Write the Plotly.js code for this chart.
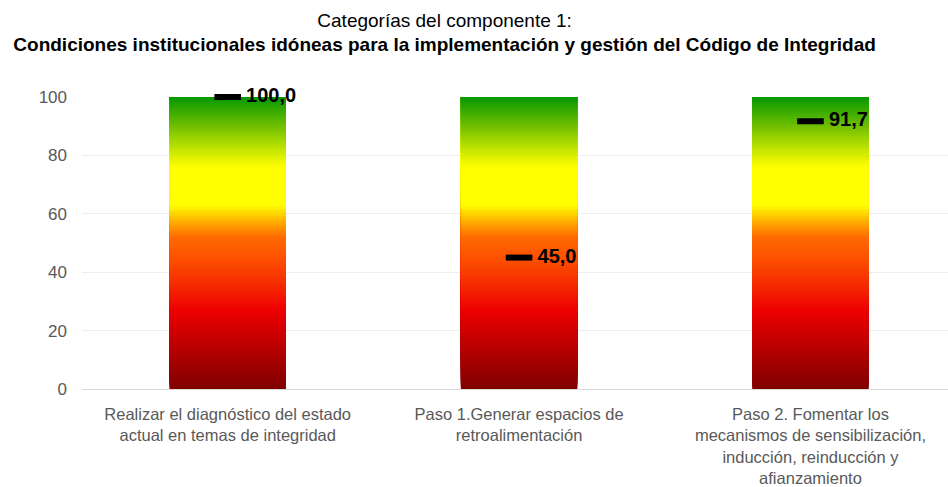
<!DOCTYPE html>
<html>
<head>
<meta charset="utf-8">
<script src="https://cdn.plot.ly/plotly-3.0.1.min.js"></script>
<style>html,body{margin:0;padding:0;background:#fff}#chart{width:948px;height:487px}</style>
</head>
<body>
<div id="chart"></div>
<script>
// Data
var categories = [
  "Realizar el diagnóstico del estado<br>actual en temas de integridad",
  "Paso 1.Generar espacios de<br>retroalimentación",
  "Paso 2. Fomentar los<br>mecanismos de sensibilización,<br>inducción, reinducción y<br>afianzamiento"
];
var barTotals = [100, 100, 100];
var scores = [100.0, 45.0, 91.7];
var scoreLabels = ["100,0", "45,0", "91,7"];
var yTicks = [0, 20, 40, 60, 80, 100];

// Gradient styling for the bars (red -> yellow -> green)
var gradientScale = [
  [0.00, "#7f0000"],
  [0.12, "#b00000"],
  [0.27, "#ee0000"],
  [0.36, "#f52c00"],
  [0.45, "#fd5200"],
  [0.52, "#ff6a00"],
  [0.57, "#ffaa00"],
  [0.63, "#ffff00"],
  [0.76, "#ffff00"],
  [0.81, "#ccea00"],
  [0.90, "#70bf00"],
  [1.00, "#069800"]
];
// Each bar is painted as overlapping layers, each running from its own
// base up to the bar total, so the colour changes without visible seams.
var SEG = 120;
var segX = [], segBase = [], segH = [], segC = [];
categories.forEach(function (c, i) {
  for (var k = 0; k < SEG; k++) {
    var b = barTotals[i] * k / SEG;
    segX.push(c);
    segBase.push(b);
    segH.push(barTotals[i] - b);
    segC.push(barTotals[i] * (k + 0.5) / SEG);
  }
});

var bars = {
  type: "bar",
  x: segX,
  y: segH,
  base: segBase,
  width: 0.4,
  marker: { color: segC, colorscale: gradientScale, cmin: 0, cmax: 100, line: { width: 0 } },
  hoverinfo: "skip",
  showlegend: false
};

var marks = {
  type: "scatter",
  mode: "markers+text",
  x: categories,
  y: scores,
  text: scoreLabels.map(function (s) { return "\u00a0" + s; }),
  textposition: "middle right",
  textfont: { family: "Liberation Sans, Arial, sans-serif", size: 20, color: "#000000", weight: "bold" },
  marker: { symbol: "line-ew", size: 19, line: { width: 6, color: "#000000" }, color: "#000000" },
  cliponaxis: false,
  showlegend: false
};

var layout = {
  width: 948,
  height: 487,
  margin: { l: 82, r: 0, t: 97, b: 98 },
  paper_bgcolor: "#ffffff",
  plot_bgcolor: "#ffffff",
  barmode: "overlay",
  font: { family: "Liberation Sans, Arial, sans-serif", color: "#595959", size: 16.5 },
  title: {
    text: "<span style='font-weight:normal'>Categorías del componente 1:</span><br><b>Condiciones institucionales idóneas para la implementación y gestión del Código de Integridad</b>",
    font: { family: "Liberation Sans, Arial, sans-serif", size: 19, color: "#000000" },
    x: 0.469, xanchor: "center", xref: "container",
    y: 0.945, yanchor: "top", yref: "container"
  },
  xaxis: {
    type: "category",
    range: [-0.5, 2.472],
    showgrid: false,
    showline: true,
    linecolor: "#d9d9d9",
    linewidth: 1,
    ticks: "",
    tickfont: { size: 16.5, color: "#595959" },
    ticklabelstandoff: 10,
    fixedrange: true
  },
  yaxis: {
    range: [0, 100],
    tickvals: yTicks,
    ticktext: yTicks.map(String),
    showgrid: true,
    gridcolor: "#eeeeee",
    gridwidth: 1,
    zeroline: false,
    showline: false,
    ticks: "",
    ticklabelstandoff: 14,
    tickfont: { size: 17, color: "#595959" },
    fixedrange: true
  }
};

Plotly.newPlot("chart", [bars, marks], layout, { displayModeBar: false, staticPlot: true });
</script>
</body>
</html>
